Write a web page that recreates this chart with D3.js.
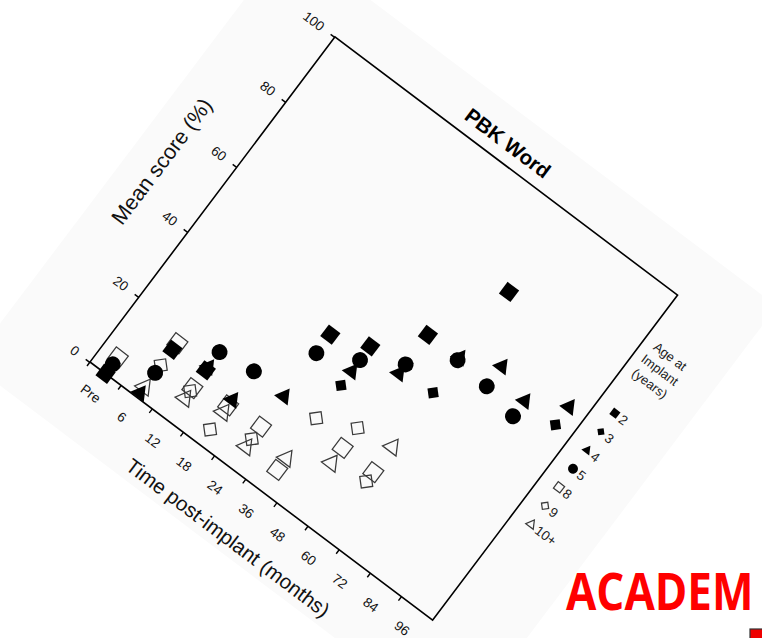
<!DOCTYPE html>
<html>
<head>
<meta charset="utf-8">
<script src="https://cdn.jsdelivr.net/npm/d3@7"></script>
<style>
  body { margin: 0; background: #fff; }
  svg { display: block; }
</style>
</head>
<body>
<svg id="chart" width="762" height="638"></svg>
<script>
// Time points after implantation (ordinal bands)
const timePoints = ["Pre", "6", "12", "18", "24", "36", "48", "60", "72", "84", "96"];
// Age at implant groups (years)
const ages = ["2", "3", "4", "5", "8", "9", "10+"];
// Mean PBK word score (%) per age group, aligned with timePoints (null = no data)
const age2  = [0, 14.6, 15.5, null, 40.9, 44.5, 55.3, 75.7, null, null, null];
const age3  = [null, null, null, null, null, 32.5, null, 44.7, null, null, 56.5];
const age4  = [null, 1.3, 16.5, 13.6, 21.9, 36.8, 43.4, 55.5, 60.0, 56.6, 62.0];
const age5  = [2.9, 7.5, 21.1, 22.4, 35.2, 40.3, 46.2, 54.7, 53.9, 51.9, null];
const age8  = [5.0, 16.6, 10.0, 11.9, 12.6, 6.5, 20.5, 20.3, null, null, null];
const age9  = [null, 9.8, 9.1, 4.5, 8.8, 22.4, 26.6, 17.4, null, null, null];
const age10 = [null, 3.1, 6.9, 9.8, 6.4, 10.1, 15.8, 28.0, null, null, null];
const yTicks = [0, 20, 40, 60, 80, 100];

const FONT = '"Liberation Sans", Arial, Helvetica, sans-serif';
const W = 429, H = 407;

const svg = d3.select("#chart");

// The whole figure sits on a tilted page
const g = svg.append("g").attr("transform", "translate(90,362) rotate(37)");

g.append("rect")
  .attr("x", -95).attr("y", -458).attr("width", 610).attr("height", 531)
  .attr("fill", "#fafafa");

const x = d3.scaleBand().domain(timePoints).range([0, W]).padding(0);
const y = d3.scaleLinear().domain([0, 100]).range([0, -H]);

// Y axis
const yAxis = g.append("g")
  .call(d3.axisLeft(y).tickValues(yTicks).tickSize(5).tickSizeOuter(0).tickPadding(10));
yAxis.select(".domain").remove();
yAxis.attr("font-size", 13.5).attr("font-family", FONT);
yAxis.selectAll("line").attr("stroke", "#000").attr("stroke-width", 1.4);
yAxis.selectAll("text").attr("fill", "#111");

// X axis labels centred in each band
const xAxis = g.append("g")
  .call(d3.axisBottom(x).tickSize(0).tickPadding(20));
xAxis.select(".domain").remove();
xAxis.attr("font-size", 13.5).attr("font-family", FONT);
xAxis.selectAll("text").attr("fill", "#111");

// X tick marks on band boundaries
g.append("g").selectAll("line")
  .data(timePoints)
  .join("line")
  .attr("x1", d => x(d)).attr("x2", d => x(d))
  .attr("y1", 0).attr("y2", 5)
  .attr("stroke", "#000").attr("stroke-width", 1.4);

// Frame
g.append("rect")
  .attr("x", 0).attr("y", -H).attr("width", W).attr("height", H)
  .attr("fill", "none").attr("stroke", "#000").attr("stroke-width", 1.6);

// Titles
g.append("text")
  .attr("x", 202).attr("y", -419)
  .attr("text-anchor", "middle")
  .attr("font-family", FONT).attr("font-size", 20.5).attr("font-weight", "bold")
  .text("PBK Word");

g.append("text")
  .attr("x", 216).attr("y", 64.5)
  .attr("text-anchor", "middle")
  .attr("font-family", FONT).attr("font-size", 20.5).attr("fill", "#111")
  .text("Time post-implant (months)");

g.append("text")
  .attr("transform", "translate(-56," + (-H / 2) + ") rotate(-90)")
  .attr("text-anchor", "middle")
  .attr("font-family", FONT).attr("font-size", 21.5).attr("fill", "#111")
  .text("Mean score (%)");

// Series styles
const series = [
  { age: "10+", values: age10, type: d3.symbolTriangle, filled: false, size: 125, rot: 0,  lsize: 38 },
  { age: "9",   values: age9,  type: d3.symbolSquare,   filled: false, size: 132, rot: 45, lsize: 40 },
  { age: "8",   values: age8,  type: d3.symbolSquare,   filled: false, size: 225, rot: 0,  lsize: 64 },
  { age: "4",   values: age4,  type: d3.symbolTriangle, filled: true,  size: 125, rot: 0,  lsize: 42 },
  { age: "3",   values: age3,  type: d3.symbolSquare,   filled: true,  size: 100, rot: 45, lsize: 40 },
  { age: "2",   values: age2,  type: d3.symbolSquare,   filled: true,  size: 210, rot: 0,  lsize: 64 },
  { age: "5",   values: age5,  type: d3.symbolCircle,   filled: true,  size: 201, rot: 0,  lsize: 78 }
];

const styleMark = (sel, s) => sel
  .attr("fill", s.filled ? "#000" : "none")
  .attr("stroke", s.filled ? "none" : "#3a3a3a")
  .attr("stroke-width", s.filled ? 0 : 1.25);

const marks = g.append("g");
series.forEach(s => {
  const pts = timePoints
    .map((t, i) => ({ t, v: s.values[i] }))
    .filter(d => d.v !== null);
  marks.append("g").selectAll("path")
    .data(pts)
    .join("path")
    .attr("d", d3.symbol().type(s.type).size(s.size))
    .attr("transform", d => "translate(" + (x(d.t) + x.bandwidth() / 2) + "," + y(d.v) + ") rotate(" + s.rot + ")")
    .call(styleMark, s);
});

// Legend
const legend = g.append("g").attr("font-family", FONT).attr("fill", "#222");
["Age at", "Implant", "(years)"].forEach((line, i) => {
  legend.append("text")
    .attr("x", 460).attr("y", -349 + i * 17)
    .attr("text-anchor", "middle").attr("font-size", 13)
    .text(line);
});
ages.forEach((a, i) => {
  const s = series.find(d => d.age === a);
  const yy = -275 + i * 23.2;
  legend.append("path")
    .attr("d", d3.symbol().type(s.type).size(s.lsize))
    .attr("transform", "translate(450," + yy + ") rotate(" + s.rot + ")")
    .call(styleMark, s);
  legend.append("text")
    .attr("x", 457).attr("y", yy + 5)
    .attr("font-size", 13.5)
    .text(a);
});

// Banner text at the lower right
svg.append("text")
  .attr("transform", "translate(566,610) scale(1,1.17)")
  .attr("font-family", '"Open Sans", "Liberation Sans", sans-serif')
  .attr("font-weight", "bold").attr("font-size", 44)
  .attr("fill", "#ff0000")
  .text("ACADEM");

svg.append("rect")
  .attr("x", 750).attr("y", 629).attr("width", 14).attr("height", 11)
  .attr("fill", "#ee0000").attr("stroke", "#333").attr("stroke-width", 1.2);
</script>
</body>
</html>
